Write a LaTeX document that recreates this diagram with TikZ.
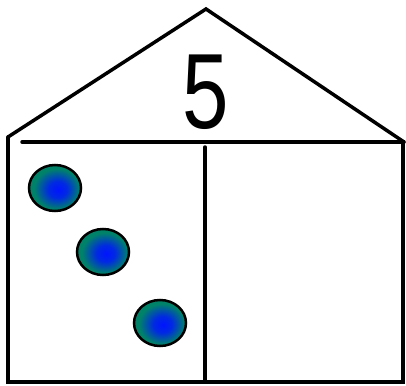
\documentclass[tikz,border=0pt]{standalone}
\usepackage{fontspec}
\setmainfont{Liberation Sans}
\usepackage{tikz}
\usetikzlibrary{shapes.geometric, positioning}

\definecolor{ballrim}{RGB}{0,130,105}
\definecolor{ballcore}{RGB}{0,20,255}

\pgfdeclareradialshading{ballglow}{\pgfpoint{3bp}{-2bp}}{%
  color(0bp)=(ballcore); color(9bp)=(ballcore!80!ballrim); color(22bp)=(ballrim); color(50bp)=(ballrim)}

\tikzset{
  wall/.style={line width=3.5pt, line cap=round, line join=miter},
  ball/.style={ellipse, draw=black, line width=2.5pt, minimum width=52pt, minimum height=46pt,
    shading=ballglow}
}

\begin{document}
\begin{tikzpicture}[x=1pt, y=-1pt]
        \useasboundingbox (0,0) rectangle (406,385);

        % Roof
        \draw[wall] (8,137) -- (206,9) -- (404,142);
        \draw[wall] (22,142) -- (404,142);

        % Walls and floor
        \draw[wall] (8,137) -- (8,382) -- (403,382) -- (403,142);

        % Middle divider
        \draw[wall] (205,147) -- (205,382);

        % Number in the roof
        \node[anchor=base, inner sep=0pt, xscale=0.78, font=\fontsize{107}{107}\selectfont] (num) at (206,128) {5};

        % Balls on the left
        \node[ball] (b1) at (55,188) {};
        \node[ball] (b2) at (103,252) {};
        \node[ball] (b3) at (160,323) {};
      \end{tikzpicture}
\end{document}
